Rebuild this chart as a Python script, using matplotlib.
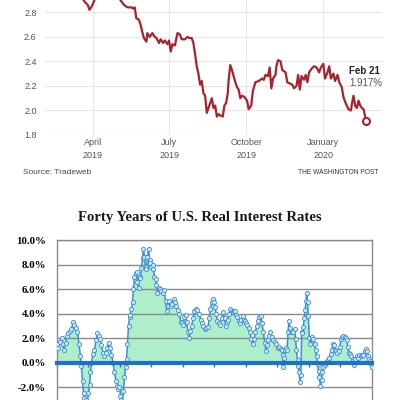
import pandas as pd
import matplotlib.pyplot as plt
import numpy as np

# ---- top chart: treasury yield (Tradeweb) ----
yield_dates = [
    "2019-02-04", "2019-02-12", "2019-02-20", "2019-03-01", "2019-03-08", "2019-03-15",
    "2019-03-20", "2019-03-21", "2019-03-23", "2019-03-26", "2019-03-28", "2019-03-31",
    "2019-04-03", "2019-04-05", "2019-04-10", "2019-04-17", "2019-04-24", "2019-05-01",
    "2019-05-04", "2019-05-07", "2019-05-10", "2019-05-13", "2019-05-17", "2019-05-19",
    "2019-05-21", "2019-05-23", "2019-05-26", "2019-05-28", "2019-05-30", "2019-06-01",
    "2019-06-04", "2019-06-05", "2019-06-08", "2019-06-11", "2019-06-14", "2019-06-16",
    "2019-06-19", "2019-06-21", "2019-06-24", "2019-06-26", "2019-06-29", "2019-07-01",
    "2019-07-03", "2019-07-05", "2019-07-08", "2019-07-11", "2019-07-14", "2019-07-16",
    "2019-07-20", "2019-07-23", "2019-07-25", "2019-07-28", "2019-07-30", "2019-08-01",
    "2019-08-03", "2019-08-05", "2019-08-07", "2019-08-09", "2019-08-11", "2019-08-13",
    "2019-08-15", "2019-08-17", "2019-08-19", "2019-08-21", "2019-08-23", "2019-08-25",
    "2019-08-27", "2019-08-29", "2019-08-31", "2019-09-03", "2019-09-05", "2019-09-07",
    "2019-09-09", "2019-09-10", "2019-09-12", "2019-09-14", "2019-09-16", "2019-09-18",
    "2019-09-20", "2019-09-22", "2019-09-24", "2019-09-26", "2019-09-29", "2019-10-02",
    "2019-10-04", "2019-10-07", "2019-10-09", "2019-10-12", "2019-10-16", "2019-10-20",
    "2019-10-22", "2019-10-24", "2019-10-27", "2019-10-29", "2019-10-31", "2019-11-02",
    "2019-11-05", "2019-11-06", "2019-11-08", "2019-11-11", "2019-11-13", "2019-11-15",
    "2019-11-17", "2019-11-19", "2019-11-22", "2019-11-25", "2019-11-27", "2019-11-30",
    "2019-12-02", "2019-12-04", "2019-12-06", "2019-12-09", "2019-12-11", "2019-12-13",
    "2019-12-15", "2019-12-18", "2019-12-21", "2019-12-24", "2019-12-27", "2019-12-29",
    "2020-01-01", "2020-01-03", "2020-01-06", "2020-01-08", "2020-01-10", "2020-01-13",
    "2020-01-15", "2020-01-18", "2020-01-20", "2020-01-23", "2020-01-25", "2020-01-27",
    "2020-01-29", "2020-01-31", "2020-02-03", "2020-02-04", "2020-02-06", "2020-02-08",
    "2020-02-10", "2020-02-12", "2020-02-14", "2020-02-16", "2020-02-18", "2020-02-20",
    "2020-02-21",
]
yield_vals = [
    3.02, 2.98, 2.97, 3.00, 2.98, 2.96,
    2.91, 2.90, 2.88, 2.86, 2.82, 2.85,
    2.90, 2.93, 2.95, 2.98, 2.95, 2.93,
    2.90, 2.87, 2.85, 2.84, 2.84, 2.83,
    2.84, 2.75, 2.74, 2.70, 2.64, 2.59,
    2.56, 2.63, 2.60, 2.63, 2.60, 2.59,
    2.55, 2.58, 2.55, 2.57, 2.54, 2.57,
    2.48, 2.54, 2.53, 2.63, 2.62, 2.58,
    2.58, 2.60, 2.59, 2.59, 2.55, 2.46,
    2.36, 2.30, 2.21, 2.24, 2.14, 2.12,
    1.98, 2.02, 2.06, 2.10, 2.02, 2.04,
    1.95, 1.97, 1.96, 1.95, 2.04, 2.06,
    2.14, 2.24, 2.37, 2.33, 2.28, 2.23,
    2.19, 2.17, 2.10, 2.12, 2.11, 2.08,
    2.01, 2.04, 2.16, 2.23, 2.24, 2.26,
    2.25, 2.29, 2.28, 2.35, 2.18, 2.26,
    2.29, 2.36, 2.41, 2.40, 2.33, 2.32,
    2.31, 2.23, 2.22, 2.21, 2.18, 2.20,
    2.29, 2.17, 2.28, 2.25, 2.29, 2.23,
    2.31, 2.34, 2.36, 2.35, 2.31, 2.35,
    2.38, 2.26, 2.31, 2.36, 2.26, 2.30,
    2.24, 2.29, 2.23, 2.19, 2.11, 2.07,
    2.04, 2.01, 2.00, 2.05, 2.12, 2.04,
    2.02, 2.08, 2.04, 2.02, 2.01, 1.95,
    1.917,
]
month_ticks = ["2019-04-01", "2019-07-01", "2019-10-01", "2020-01-01"]
month_labels = ["April\n2019", "July\n2019", "October\n2019", "January\n2020"]
yield_ticks = [1.8, 2.0, 2.2, 2.4, 2.6, 2.8]

# ---- bottom chart: forty years of real rates ----
years = [
    1971.06, 1971.19, 1971.38, 1971.60, 1971.76, 1971.89, 1972.08, 1972.27, 1972.46, 1972.65,
    1972.84, 1973.03, 1973.22, 1973.41, 1973.60, 1973.79, 1973.98, 1974.11, 1974.24, 1974.37,
    1974.49, 1974.68, 1974.87, 1975.00, 1975.13, 1975.25, 1975.38, 1975.57, 1975.76, 1975.95,
    1976.14, 1976.27, 1976.46, 1976.65, 1976.84, 1977.00, 1977.16, 1977.35, 1977.54, 1977.73,
    1977.92, 1978.11, 1978.30, 1978.49, 1978.67, 1978.80, 1978.93, 1979.06, 1979.19, 1979.32,
    1979.44, 1979.57, 1979.70, 1979.83, 1979.95, 1980.08, 1980.21, 1980.33, 1980.46, 1980.59,
    1980.71, 1980.84, 1980.97, 1981.10, 1981.22, 1981.35, 1981.48, 1981.60, 1981.73, 1981.86,
    1981.98, 1982.11, 1982.24, 1982.36, 1982.49, 1982.62, 1982.75, 1982.87, 1983.00, 1983.13,
    1983.25, 1983.38, 1983.51, 1983.63, 1983.76, 1983.89, 1984.02, 1984.21, 1984.40, 1984.59,
    1984.79, 1984.94, 1985.11, 1985.27, 1985.43, 1985.62, 1985.81, 1986.00, 1986.17, 1986.37,
    1986.53, 1986.71, 1986.87, 1987.04, 1987.19, 1987.32, 1987.47, 1987.63, 1987.80, 1987.95,
    1988.11, 1988.27, 1988.46, 1988.65, 1988.84, 1989.03, 1989.25, 1989.41, 1989.60, 1989.79,
    1989.98, 1990.17, 1990.34, 1990.49, 1990.64, 1990.77, 1990.94, 1991.06, 1991.22, 1991.36,
    1991.53, 1991.70, 1991.89, 1992.12, 1992.27, 1992.42, 1992.55, 1992.68, 1992.84, 1992.97,
    1993.16, 1993.31, 1993.48, 1993.60, 1993.76, 1993.90, 1994.07, 1994.24, 1994.40, 1994.58,
    1994.75, 1994.87, 1995.03, 1995.17, 1995.34, 1995.51, 1995.67, 1995.85, 1996.02, 1996.18,
    1996.37, 1996.56, 1996.71, 1996.87, 1997.03, 1997.20, 1997.38, 1997.54, 1997.70, 1997.83,
    1997.96, 1998.11, 1998.28, 1998.47, 1998.66, 1998.85, 1999.04, 1999.23, 1999.42, 1999.54,
    1999.64, 1999.74, 1999.86, 1999.96, 2000.08, 2000.21, 2000.34, 2000.46, 2000.59, 2000.72,
    2000.88, 2001.03, 2001.16, 2001.29, 2001.41, 2001.54, 2001.64, 2001.73, 2001.86, 2001.96,
    2002.07, 2002.17, 2002.29, 2002.40, 2002.52, 2002.62, 2002.71, 2002.81, 2002.91, 2003.04,
    2003.17, 2003.32, 2003.44, 2003.57, 2003.71, 2003.83, 2003.96, 2004.08, 2004.21, 2004.33,
    2004.46, 2004.59, 2004.71, 2004.84, 2004.97, 2005.12, 2005.29, 2005.45, 2005.60, 2005.76,
    2005.90, 2006.05, 2006.18, 2006.30, 2006.45, 2006.59, 2006.75, 2006.90, 2007.06, 2007.21,
    2007.35, 2007.51, 2007.66, 2007.79, 2007.91, 2008.04, 2008.21, 2008.36, 2008.53, 2008.65,
    2008.75, 2008.88, 2009.06, 2009.22, 2009.39, 2009.55, 2009.73, 2009.89, 2010.05, 2010.20,
    2010.34, 2010.48, 2010.64, 2010.78, 2010.87, 2010.97,
]
real_rates = [
    1.5, 1.2, 1.7, 2.0, 1.5, 1.0, 1.6, 2.2, 2.4, 2.6,
    2.7, 3.3, 3.1, 2.8, 2.5, 1.5, 0.5, -0.3, -1.5, -2.5,
    -2.9, -3.1, -3.2, -2.5, -1.8, -0.8, 0.0, 0.7, 1.0, 1.8,
    2.4, 2.2, 1.9, 1.4, 0.8, 0.5, 0.8, 1.2, 1.6, 1.2,
    0.6, 0.0, -0.8, -1.5, -1.9, -2.2, -2.0, -2.7, -3.1, -3.2,
    -2.3, -1.2, -0.4, 0.3, 1.5, 3.0, 3.7, 3.9, 4.4, 4.9,
    6.0, 7.0, 7.3, 7.4, 6.6, 6.1, 7.0, 6.9, 7.7, 8.5,
    9.3, 8.6, 7.8, 7.6, 8.6, 9.3, 8.4, 8.1, 7.8, 8.0,
    7.6, 7.0, 6.8, 6.3, 5.7, 6.1, 6.0, 5.8, 5.7, 5.9,
    5.0, 4.2, 4.6, 5.0, 4.6, 4.8, 5.2, 4.9, 4.6, 4.3,
    4.0, 3.3, 3.2, 3.1, 3.7, 3.9, 3.3, 2.5, 2.0, 2.6,
    3.0, 3.6, 4.2, 4.4, 4.3, 4.0, 3.5, 3.2, 3.0, 2.7,
    2.8, 2.9, 3.6, 4.4, 4.9, 5.2, 4.9, 4.5, 4.0, 3.4,
    3.2, 3.1, 3.6, 4.1, 3.6, 3.0, 3.3, 3.5, 4.0, 4.35,
    4.2, 4.1, 4.2, 4.2, 3.9, 3.7, 3.4, 3.25, 3.5, 3.8,
    3.5, 3.4, 3.2, 3.1, 2.8, 2.45, 1.9, 1.5, 1.9, 2.45,
    3.0, 3.4, 3.7, 3.8, 3.2, 2.45, 1.6, 0.95, 1.4, 1.8,
    2.2, 2.45, 2.1, 1.8, 1.7, 1.5, 1.2, 1.3, 1.1, 1.0,
    0.6, -0.4, 0.4, 1.0, 1.2, 1.0, 2.5, 3.4, 2.8, 2.45,
    2.6, 2.5, 2.7, 1.9, 1.0, 0.2, -0.3, -0.8, -1.6, -1.0,
    2.5, 2.4, 2.9, 3.6, 4.3, 5.0, 5.7, 4.9, 3.8, 2.0,
    1.5, 1.9, 2.1, 1.9, 1.5, 1.0, 0.5, -0.1, -0.7, -1.2,
    -1.9, -1.4, -0.8, -0.4, -0.2, 0.0, 0.1, 0.2, 0.4, 0.7,
    1.0, 1.5, 1.4, 1.0, 0.9, 0.8, 0.9, 1.3, 1.9, 2.1,
    2.2, 2.1, 2.0, 1.8, 1.3, 0.8, 0.7, 0.55, 0.3, 0.1,
    -0.2, 0.3, 0.5, 0.4, 0.6, 0.5, 0.6, 0.6, 0.9, 1.1,
    0.9, 0.5, 0.3, 0.1, -0.1, -0.4,
]
rate_ticks = [-2, 0, 2, 4, 6, 8, 10]

RED = "#a8232b"
GRAY_TXT = "#555555"

fig = plt.figure(figsize=(4, 4), dpi=100)

# top panel
ax1 = fig.add_axes([45 / 400, 1 - 135 / 400, 337 / 400, 135 / 400])
d = pd.to_datetime(yield_dates)
ax1.plot(d, yield_vals, color=RED, lw=1.6, solid_joinstyle="round", zorder=3)
ax1.plot(d[-1], yield_vals[-1], "o", ms=5, mfc="white", mec=RED, mew=1.5, zorder=4)
ax1.set_xlim(pd.Timestamp("2019-02-03"), pd.Timestamp("2020-03-11"))
ax1.set_ylim(1.8, 2.9)
ax1.set_yticks(yield_ticks)
ax1.set_yticklabels([f"{v:.1f}" for v in yield_ticks])
ax1.set_xticks(pd.to_datetime(month_ticks))
ax1.set_xticklabels(month_labels, linespacing=1.5)
for s in ax1.spines.values():
    s.set_visible(False)
ax1.grid(True, color="#e8e8e8", lw=0.8)
ax1.tick_params(length=0, labelsize=6.5, labelcolor=GRAY_TXT, pad=6)
ax1.tick_params(axis="x", pad=2.5)
for t in ax1.get_xticklabels() + ax1.get_yticklabels():
    t.set_fontfamily("Liberation Sans")
ax1.annotate("Feb 21", xy=(d[-1], yield_vals[-1]), xytext=(-12, 36),
             textcoords="offset points", fontsize=7, fontweight="bold",
             family="Liberation Sans", color="#222222", va="center", ha="left")
ax1.annotate("1.917%", xy=(d[-1], yield_vals[-1]), xytext=(-12, 27),
             textcoords="offset points", fontsize=7,
             family="Liberation Sans", color=GRAY_TXT, va="center", ha="left")

fig.text(23 / 400, 1 - 173 / 400, "Source: Tradeweb", fontsize=6,
         family="Liberation Sans", color="#444444", va="center")
fig.text(378 / 400, 1 - 173 / 400, "THE WASHINGTON POST", fontsize=4.8,
         family="Liberation Sans", color="#333333", va="center", ha="right")

# bottom panel
fig.text(0.5, 1 - 217 / 400, "Forty Years of U.S. Real Interest Rates",
         fontsize=10.6, fontweight="bold", family="Liberation Serif",
         color="#1a1a1a", ha="center", va="center")

ax2 = fig.add_axes([57 / 400, 0, 315 / 400, 160 / 400])
ax2.set_axisbelow("line")
ax2.fill_between(years, real_rates, 0, color="#aeeecb", lw=0, zorder=1)
ax2.plot(years, real_rates, color="#3b8ed6", lw=1.1, marker="o", ms=3.0,
         mfc="#cfe9f9", mec="#3b8ed6", mew=0.6, zorder=3)
ax2.set_xlim(1971, 2011)
ax2.set_ylim(-3.06, 10)
ax2.set_yticks(rate_ticks)
ax2.set_yticklabels([f"{v:.1f}%" for v in rate_ticks])
ax2.set_xticks(np.arange(1971, 2012, 4))
ax2.set_xticklabels([])
ax2.grid(True, axis="y", color="#8a8a8a", lw=1.0)
for side in ["left", "right", "top"]:
    ax2.spines[side].set_color("#8a8a8a")
    ax2.spines[side].set_linewidth(1.0)
ax2.spines["bottom"].set_position(("data", 0))
ax2.spines["bottom"].set_color("#1f70c6")
ax2.spines["bottom"].set_linewidth(3)
ax2.spines["bottom"].set_zorder(4)
ax2.tick_params(axis="y", length=0, pad=8, labelsize=7.8)
ax2.tick_params(axis="x", length=3, width=1, color="#1f70c6", direction="out")
for t in ax2.get_yticklabels():
    t.set_fontfamily("Liberation Serif")
    t.set_fontweight("bold")

fig.savefig("out.png", dpi=100, facecolor="white")
